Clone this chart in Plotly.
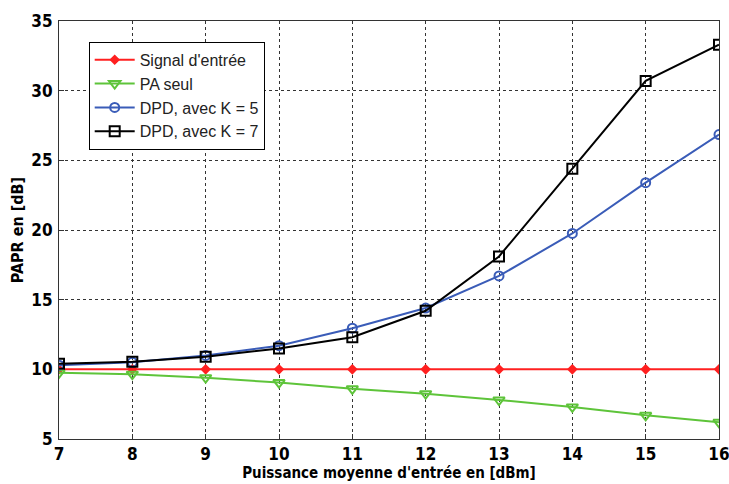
import plotly.graph_objects as go

x = [7, 8, 9, 10, 11, 12, 13, 14, 15, 16]
signal_entree = [10, 10, 10, 10, 10, 10, 10, 10, 10, 10]
pa_seul = [9.75, 9.65, 9.4, 9.05, 8.6, 8.25, 7.8, 7.3, 6.7, 6.2]
dpd_k5 = [10.3, 10.5, 11.0, 11.7, 12.95, 14.4, 16.7, 19.75, 23.4, 26.85]
dpd_k7 = [10.4, 10.55, 10.9, 11.5, 12.3, 14.2, 18.1, 24.4, 30.7, 33.3]
y_ticks = [5, 10, 15, 20, 25, 30, 35]

names = ["Signal d'entrée", "PA seul", "DPD, avec K = 5", "DPD, avec K = 7"]
series = [signal_entree, pa_seul, dpd_k5, dpd_k7]
colors = ["#ff2020", "#5ec43a", "#3a5cb8", "#000000"]
symbols = ["diamond", "triangle-down-open", "circle-open", "square-open"]
sizes = [6, 10, 9, 10]

fig = go.Figure()
for n, s, c, sym, sz in zip(names, series, colors, symbols, sizes):
    fig.add_trace(go.Scatter(
        x=x, y=s, name=n, mode="lines+markers",
        line=dict(color=c, width=2),
        marker=dict(symbol=sym, size=sz, color=c, line=dict(color=c, width=2)),
    ))

narrow = "DejaVu Sans Condensed, Liberation Sans Narrow, sans-serif"
tickfont = dict(family=narrow, size=17, color="black", weight="bold")
fig.update_layout(
    width=729, height=484,
    margin=dict(l=59, r=10, t=21, b=45, autoexpand=False),
    paper_bgcolor="white", plot_bgcolor="white",
    showlegend=True,
    legend=dict(
        x=0.045, y=0.95, xanchor="left", yanchor="top",
        bordercolor="black", borderwidth=1, bgcolor="white",
        font=dict(family="Arial, Liberation Sans, sans-serif", size=16, color="#222"),
        tracegroupgap=0, itemwidth=40,
    ),
    xaxis=dict(
        range=[7, 16], tickvals=x,
        showgrid=True, gridcolor="#333", griddash="dot", gridwidth=1,
        showline=True, linecolor="#333", linewidth=1, mirror=True,
        ticks="inside", ticklen=5, tickcolor="#333",
        tickfont=tickfont, zeroline=False, automargin=False,
        ticklabeloverflow="allow",
        title=dict(text="Puissance moyenne d'entrée en [dBm]",
                   font=dict(family=narrow, size=15, color="black", weight="bold"),
                   standoff=3),
    ),
    yaxis=dict(
        range=[5, 35], tickvals=y_ticks,
        showgrid=True, gridcolor="#333", griddash="dot", gridwidth=1,
        showline=True, linecolor="#333", linewidth=1, mirror=True,
        ticks="inside", ticklen=5, tickcolor="#333",
        tickfont=tickfont, zeroline=False, automargin=False,
        ticklabelstandoff=2, ticklabeloverflow="allow",
        title=dict(text="PAPR en [dB]",
                   font=dict(family=narrow, size=16, color="black", weight="bold"),
                   standoff=3),
    ),
)

fig.write_html("out.html", config={"displayModeBar": False})

with open("out.html", "r", encoding="utf-8") as f:
    html = f.read()
html = html.replace("<head>", "<head><style>html,body{margin:0;padding:0;}</style>", 1)
with open("out.html", "w", encoding="utf-8") as f:
    f.write(html)
